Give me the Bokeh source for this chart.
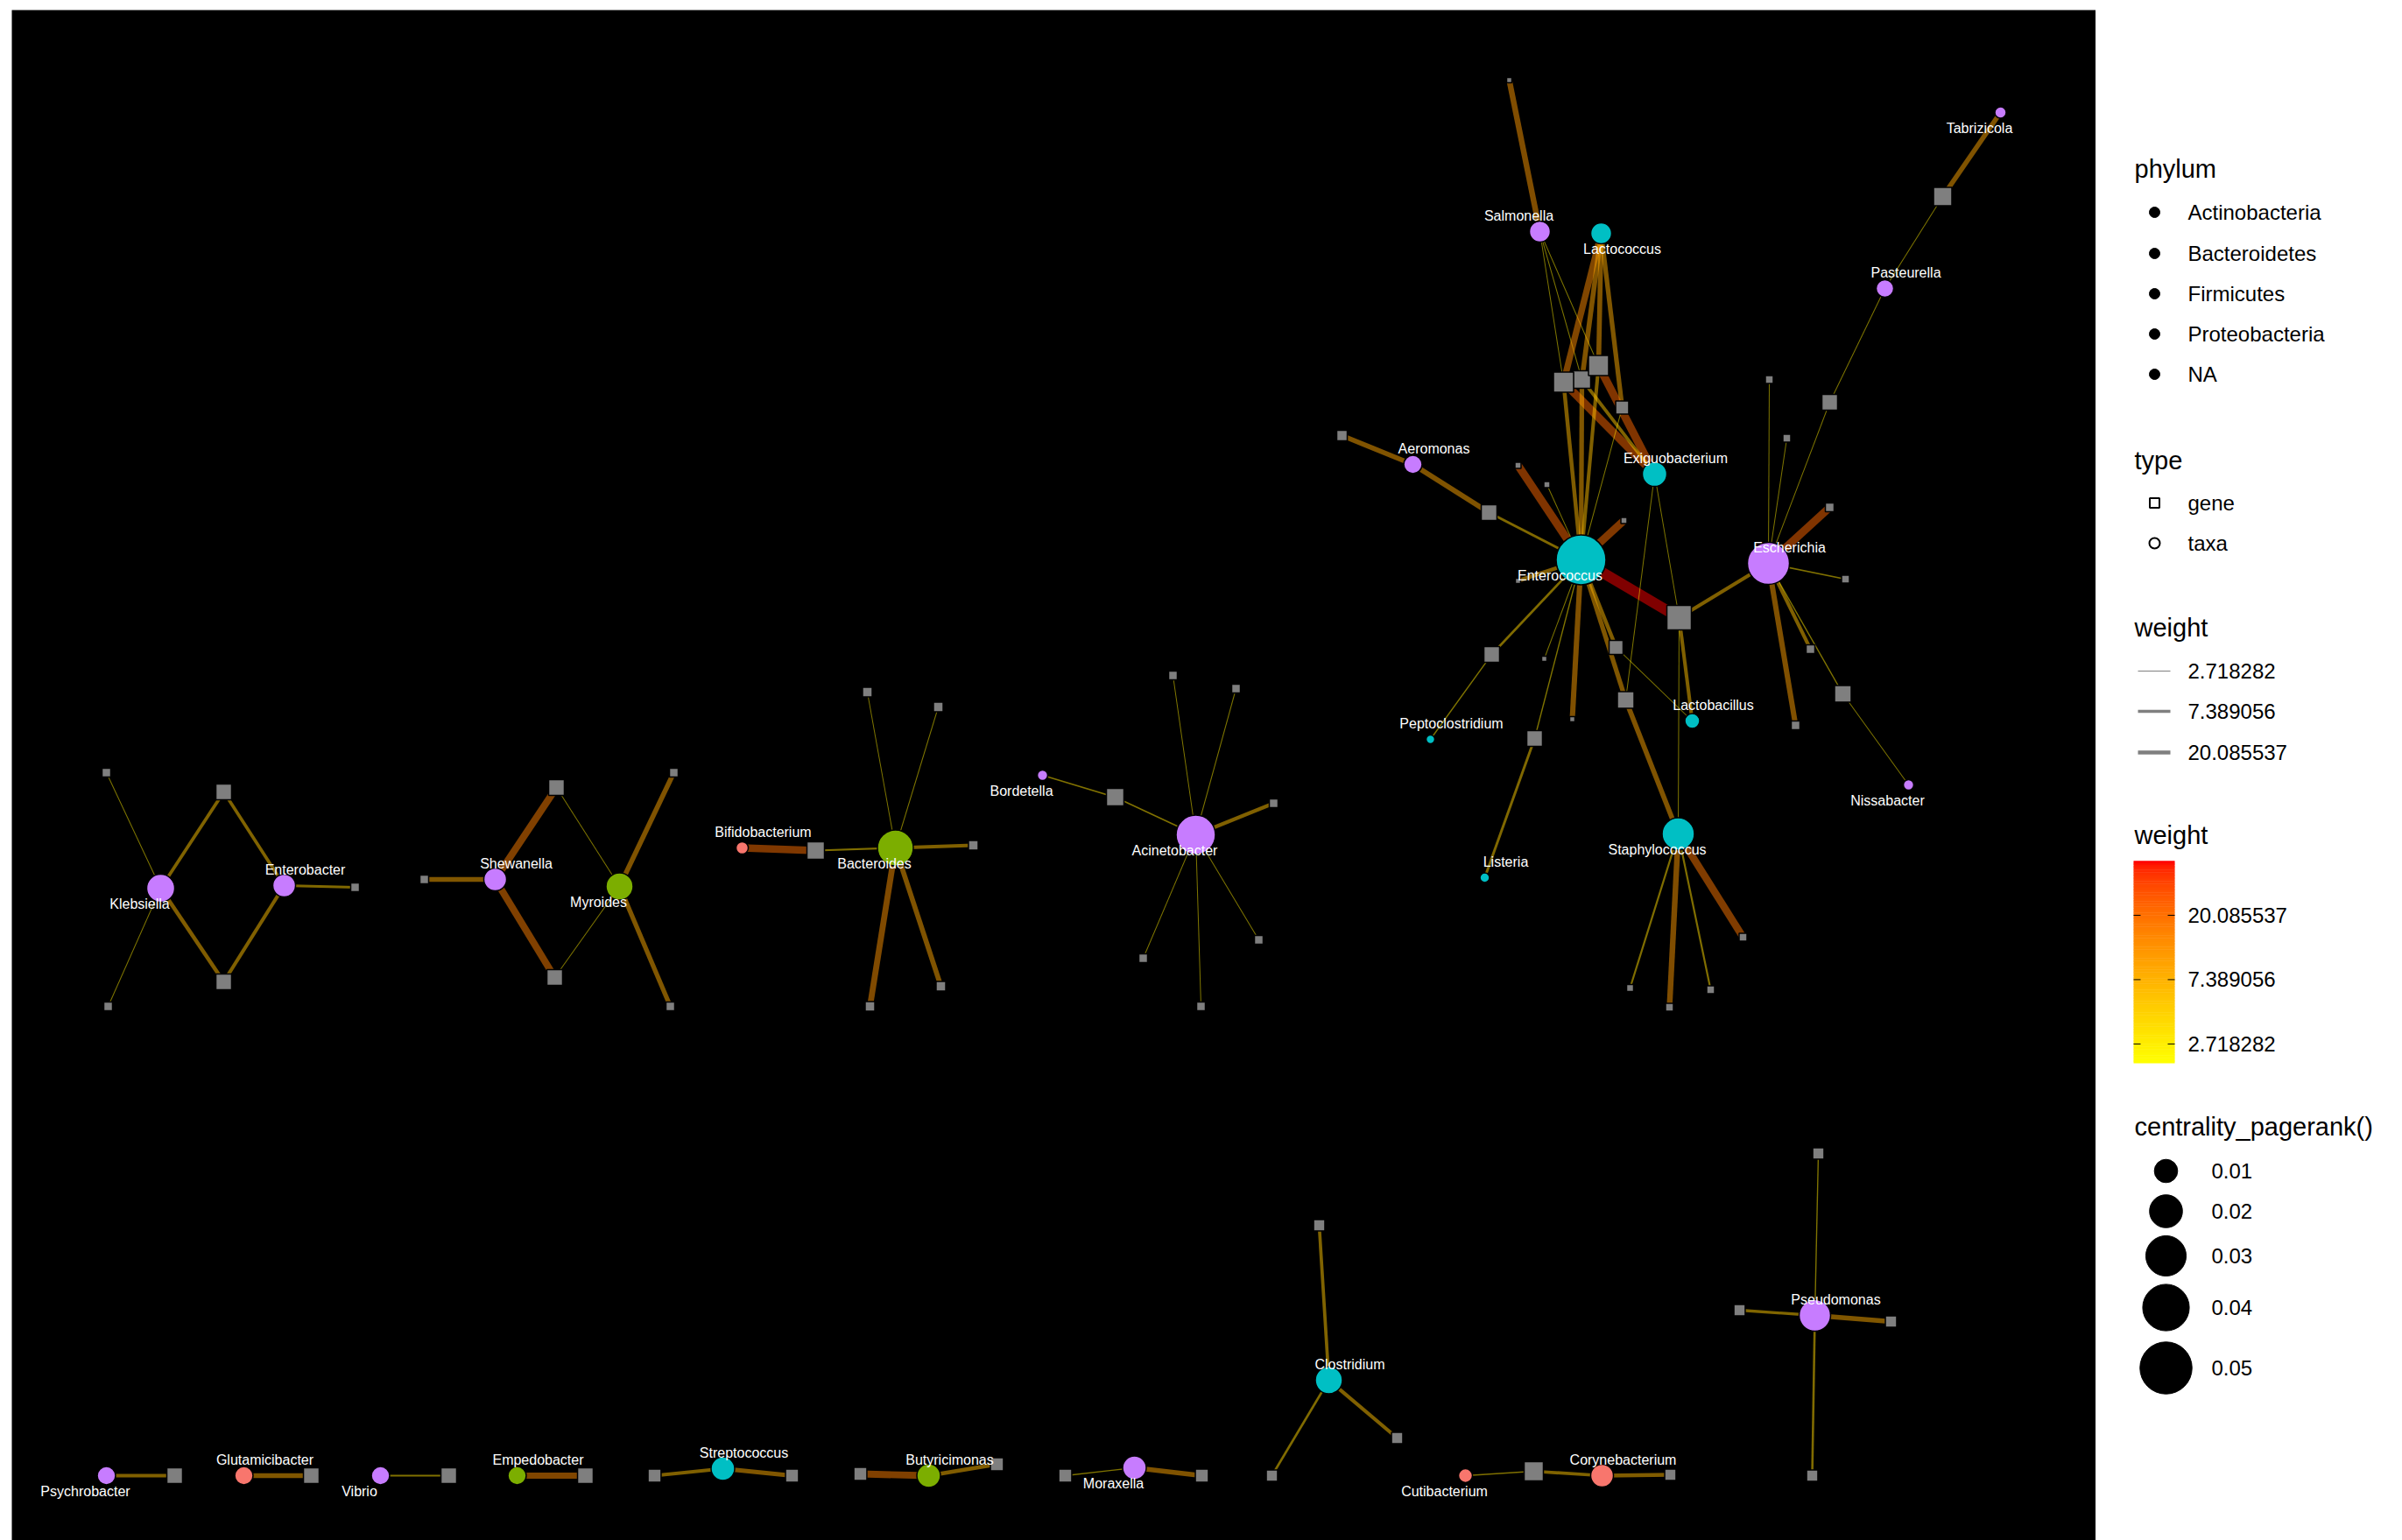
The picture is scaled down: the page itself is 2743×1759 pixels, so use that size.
import numpy as np
from bokeh.plotting import figure
from bokeh.models import ColumnDataSource, Range1d, LogColorMapper, CategoricalColorMapper
from bokeh.layouts import row
from bokeh.embed import file_html
from bokeh.resources import INLINE
from bokeh.core.properties import value
from bokeh.transform import transform

# ---------------- data ----------------
taxa_name = ["Enterococcus", "Escherichia", "Salmonella", "Lactococcus", "Aeromonas",
             "Exiguobacterium", "Pasteurella", "Tabrizicola", "Peptoclostridium", "Listeria",
             "Lactobacillus", "Staphylococcus", "Nissabacter", "Klebsiella", "Enterobacter",
             "Shewanella", "Myroides", "Bifidobacterium", "Bacteroides", "Bordetella",
             "Acinetobacter", "Psychrobacter", "Glutamicibacter", "Vibrio", "Empedobacter",
             "Streptococcus", "Butyricimonas", "Moraxella", "Clostridium", "Cutibacterium",
             "Corynebacterium", "Pseudomonas"]
taxa_phylum = ["Firmicutes", "Proteobacteria", "Proteobacteria", "Firmicutes", "Proteobacteria",
               "Firmicutes", "Proteobacteria", "Proteobacteria", "Firmicutes", "Firmicutes",
               "Firmicutes", "Firmicutes", "Proteobacteria", "Proteobacteria", "Proteobacteria",
               "Proteobacteria", "Bacteroidetes", "Actinobacteria", "Bacteroidetes", "Proteobacteria",
               "Proteobacteria", "Proteobacteria", "Actinobacteria", "Proteobacteria", "Bacteroidetes",
               "Firmicutes", "Bacteroidetes", "Proteobacteria", "Firmicutes", "Actinobacteria",
               "Actinobacteria", "Proteobacteria"]
taxa_x = [17.92, 20.06, 17.45, 18.15, 16.00, 18.76, 21.39, 22.71, 16.20, 16.82,
          19.19, 19.03, 21.66, 1.70, 3.11, 5.52, 6.94, 8.34, 10.09, 11.77,
          13.52, 1.08, 2.65, 4.21, 5.77, 8.12, 10.47, 12.82, 15.04, 16.60,
          18.16, 20.59]
taxa_y = [11.20, 11.16, 14.95, 14.93, 12.29, 12.18, 14.30, 16.31, 9.15, 7.57,
          9.36, 8.07, 8.63, 7.45, 7.48, 7.55, 7.47, 7.91, 7.91, 8.74,
          8.06, 0.74, 0.74, 0.74, 0.74, 0.82, 0.74, 0.83, 1.83, 0.74,
          0.74, 2.57]
taxa_pagerank = [0.0459, 0.0326, 0.0081, 0.0081, 0.0062, 0.0111, 0.0057, 0.0024, 0.0014, 0.0017,
                 0.0041, 0.0193, 0.0020, 0.0145, 0.0096, 0.0096, 0.0136, 0.0028, 0.0238, 0.0020,
                 0.0286, 0.0062, 0.0062, 0.0062, 0.0062, 0.0103, 0.0103, 0.0103, 0.0136, 0.0036,
                 0.0096, 0.0183]
taxa_label_side = ["sw", "ne", "nw", "se", "ne", "ne", "ne", "sw", "ne", "ne",
                   "ne", "sw", "sw", "sw", "ne", "ne", "sw", "ne", "sw", "sw",
                   "sw", "sw", "ne", "sw", "ne", "ne", "ne", "sw", "ne", "sw",
                   "ne", "ne"]

gene_name = ["g03", "g02", "g04", "g01", "g05", "g06", "g07", "g08", "g09", "g10",
             "g11", "g12", "g13", "g14", "g15", "g16", "g17", "g18", "g19", "g20",
             "g21", "g22", "g23", "g24", "g25", "g26", "g27", "g28", "g29", "g30",
             "g31", "g32", "g33", "g34", "g35", "g36", "g37", "g38", "g39", "g40",
             "g41", "g42", "g43", "g44", "g45", "g46", "g47", "g48", "g49", "g50",
             "g51", "g52", "g53", "g54", "g55", "g56", "g57", "g58", "g59", "g60",
             "g61", "g62", "g63", "g64", "g65", "g66", "g67", "g68", "g69", "g70",
             "g71", "g72", "g73"]
gene_x = [17.93, 17.72, 18.12, 17.10, 18.39, 15.19, 16.87, 17.20, 17.53, 18.41,
          17.20, 19.04, 22.05, 20.76, 20.07, 20.27, 20.76, 20.94, 16.90, 17.50,
          18.32, 18.43, 17.82, 17.39, 20.54, 20.91, 20.37, 18.48, 18.93, 19.40,
          19.77, 1.08, 2.42, 2.42, 1.10, 3.92, 4.71, 6.22, 6.20, 7.56,
          7.52, 9.18, 9.77, 10.58, 10.98, 9.80, 10.61, 12.60, 13.26, 13.98,
          14.41, 14.24, 13.58, 12.92, 1.86, 3.42, 4.99, 6.55, 7.34, 8.91,
          9.69, 11.25, 12.03, 13.59, 14.93, 15.82, 14.39, 17.38, 18.94, 20.63,
          19.73, 21.46, 20.56]
gene_y = [13.26, 13.23, 13.42, 16.68, 12.94, 12.62, 11.74, 12.28, 12.06, 11.65,
          10.96, 10.54, 15.35, 13.00, 13.26, 12.59, 11.80, 10.98, 10.12, 10.07,
          10.20, 9.60, 9.38, 9.16, 10.18, 9.67, 9.31, 6.31, 6.09, 6.29,
          6.89, 8.77, 8.55, 6.38, 6.10, 7.46, 7.55, 8.60, 6.43, 8.77,
          6.10, 7.88, 9.69, 9.52, 7.94, 6.10, 6.33, 8.49, 9.88, 9.73,
          8.42, 6.86, 6.10, 6.65, 0.74, 0.74, 0.74, 0.74, 0.74, 0.74,
          0.76, 0.87, 0.74, 0.74, 3.60, 1.17, 0.74, 0.79, 0.75, 4.42,
          2.63, 2.50, 0.74]
gene_pagerank = [0.0072, 0.0095, 0.0095, 0.00065, 0.0040, 0.0026, 0.0058, 0.00088, 0.00088, 0.00088,
                 0.00065, 0.0141, 0.0079, 0.0058, 0.00146, 0.00146, 0.0018, 0.00146, 0.0058, 0.00065,
                 0.0046, 0.0065, 0.00065, 0.0058, 0.0018, 0.0065, 0.0018, 0.00115, 0.00146, 0.00146,
                 0.00146, 0.0018, 0.0058, 0.0058, 0.0018, 0.0018, 0.0018, 0.0058, 0.0058, 0.0018,
                 0.0018, 0.0072, 0.0022, 0.0022, 0.0022, 0.0022, 0.0022, 0.0072, 0.0018, 0.0018,
                 0.0018, 0.0018, 0.0018, 0.0018, 0.0058, 0.0058, 0.0058, 0.0058, 0.0040, 0.0040,
                 0.0040, 0.0040, 0.0040, 0.0040, 0.0030, 0.0030, 0.0030, 0.0087, 0.0030, 0.0030,
                 0.0030, 0.0030, 0.0030]

edge_from = ["Salmonella", "Salmonella", "Salmonella", "Salmonella", "Lactococcus", "Lactococcus",
             "Lactococcus", "Lactococcus", "g02", "g04", "g03", "g02", "g03", "g04", "g05",
             "Aeromonas", "Aeromonas", "g07", "Enterococcus", "Enterococcus", "Enterococcus",
             "Enterococcus", "Enterococcus", "Enterococcus", "g19", "Enterococcus", "Enterococcus",
             "g24", "Enterococcus", "Enterococcus", "Enterococcus", "g22", "g21", "g12", "g12",
             "g12", "g22", "g12", "Escherichia", "Escherichia", "Escherichia", "g14", "Pasteurella",
             "g13", "Escherichia", "Escherichia", "Escherichia", "Escherichia", "Escherichia", "g26",
             "Staphylococcus", "Staphylococcus", "Staphylococcus", "Staphylococcus",
             "Klebsiella", "Klebsiella", "Klebsiella", "Klebsiella", "Enterobacter", "Enterobacter",
             "Enterobacter", "Shewanella", "Shewanella", "Shewanella", "Myroides", "Myroides",
             "Myroides", "Myroides", "Bifidobacterium", "g42", "Bacteroides", "Bacteroides",
             "Bacteroides", "Bacteroides", "Bacteroides", "Bordetella", "g48", "Acinetobacter",
             "Acinetobacter", "Acinetobacter", "Acinetobacter", "Acinetobacter", "Acinetobacter",
             "Psychrobacter", "Glutamicibacter", "Vibrio", "Empedobacter", "Streptococcus",
             "Streptococcus", "Butyricimonas", "Butyricimonas", "Moraxella", "Moraxella",
             "Clostridium", "Clostridium", "Clostridium", "Cutibacterium", "g68", "Corynebacterium",
             "Pseudomonas", "Pseudomonas", "Pseudomonas", "Pseudomonas"]
edge_to = ["g01", "g02", "g03", "g04", "g02", "g03",
           "g04", "g05", "Exiguobacterium", "Exiguobacterium", "Exiguobacterium", "Enterococcus",
           "Enterococcus", "Enterococcus", "Enterococcus",
           "g06", "g07", "Enterococcus", "g08", "g09", "g10",
           "g11", "g12", "g19", "Peptoclostridium", "g20", "g24",
           "Listeria", "g23", "g21", "g22", "Staphylococcus", "Lactobacillus", "Lactobacillus",
           "Staphylococcus", "Exiguobacterium", "Exiguobacterium", "Escherichia", "g15", "g16",
           "g14", "Pasteurella", "g13", "Tabrizicola", "g17", "g18", "g25", "g27", "g26",
           "Nissabacter", "g28", "g29", "g30", "g31",
           "g32", "g33", "g34", "g35", "g33", "g34",
           "g36", "g37", "g38", "g39", "g38", "g39",
           "g40", "g41", "g42", "Bacteroides", "g43", "g44",
           "g45", "g46", "g47", "g48", "Acinetobacter", "g49",
           "g50", "g51", "g52", "g53", "g54",
           "g55", "g56", "g57", "g58", "g59",
           "g60", "g61", "g62", "g63", "g64",
           "g65", "g66", "g67", "g68", "Corynebacterium", "g69",
           "g70", "g71", "g72", "g73"]
edge_weight = [11.0, 2.72, 2.72, 2.72, 13.5, 9.0,
               9.0, 8.2, 22.2, 22.2, 5.5, 6.7, 8.2, 6.0, 2.72,
               9.0, 9.0, 4.5, 22.2, 2.72, 20.1,
               6.7, 46.5, 4.1, 3.0, 2.72, 3.0,
               4.5, 10.0, 6.7, 8.2, 9.0, 2.72, 6.0,
               2.72, 2.72, 2.72, 6.0, 2.72, 2.72,
               2.72, 2.72, 2.72, 9.0, 22.2, 3.3, 6.0, 10.0, 3.0,
               2.72, 3.7, 11.0, 3.7, 18.2,
               2.72, 5.5, 6.7, 2.72, 5.5, 6.0,
               4.5, 8.2, 16.4, 16.4, 2.72, 2.72,
               9.0, 8.2, 20.1, 3.7, 2.72, 2.72,
               6.0, 12.2, 9.0, 3.3, 3.3, 2.72,
               2.72, 6.0, 2.72, 2.72, 2.72,
               6.0, 8.2, 3.3, 13.5, 6.0,
               8.2, 16.4, 6.7, 3.0, 9.0,
               5.5, 6.0, 4.1, 3.3, 5.5, 6.7,
               3.0, 5.0, 8.2, 4.1]

phylum_levels = ["Actinobacteria", "Bacteroidetes", "Firmicutes", "Proteobacteria", "NA"]
weight_breaks = [2.718282, 7.389056, 20.085537]
weight_break_labels = ["2.718282", "7.389056", "20.085537"]
pagerank_breaks = [0.01, 0.02, 0.03, 0.04, 0.05]
pagerank_break_labels = ["0.01", "0.02", "0.03", "0.04", "0.05"]

# ---------------- styling / scales ----------------
FONT = "Liberation Sans"
PHYLUM_COLORS = ["#F8766D", "#7CAE00", "#00BFC4", "#C77CFF"]
GENE_FILL = "#7F7F7F"
CIRCLE_K = 266.0          # diameter (px) = K * sqrt(pagerank)
SQUARE_K = 0.886 * CIRCLE_K
W_LOW, W_HIGH = np.exp(0.70), np.exp(3.84)
TOP_BORDER = 11

_M = np.array([[0.4124564, 0.3575761, 0.1804375],
               [0.2126729, 0.7151522, 0.0721750],
               [0.0193339, 0.1191920, 0.9503041]])
_WHITE = np.array([0.95047, 1.0, 1.08883])


def rgb2lab(rgb):
    c = np.array(rgb, dtype=float) / 255.0
    lin = np.where(c <= 0.04045, c / 12.92, ((c + 0.055) / 1.055) ** 2.4)
    xyz = _M @ lin / _WHITE
    f = np.where(xyz > 0.008856, np.cbrt(xyz), 7.787 * xyz + 16 / 116)
    return np.array([116 * f[1] - 16, 500 * (f[0] - f[1]), 200 * (f[1] - f[2])])


def lab2hex(lab):
    L, a, b = lab
    fy = (L + 16) / 116
    f = np.array([fy + a / 500, fy, fy - b / 200])
    xyz = np.where(f ** 3 > 0.008856, f ** 3, (f - 16 / 116) / 7.787) * _WHITE
    lin = np.linalg.solve(_M, xyz)
    lin = np.clip(lin, 0, 1)
    c = np.where(lin <= 0.0031308, 12.92 * lin, 1.055 * lin ** (1 / 2.4) - 0.055)
    c = np.clip(np.round(c * 255), 0, 255).astype(int)
    return "#%02x%02x%02x" % tuple(c)


lab_lo, lab_hi = rgb2lab([255, 255, 0]), rgb2lab([255, 0, 0])
palette = [lab2hex(lab_lo + (lab_hi - lab_lo) * t) for t in np.linspace(0, 1, 256)]
edge_cmap = LogColorMapper(palette=palette, low=W_LOW, high=W_HIGH)


def edge_width(w):
    return np.clip(1.0 + 3.87 * (np.log(np.asarray(w, dtype=float)) - 1.0), 0.8, None)


# ---------------- main network panel ----------------
pos = {}
for n, x, y in zip(taxa_name, taxa_x, taxa_y):
    pos[n] = (x, y)
for n, x, y in zip(gene_name, gene_x, gene_y):
    pos[n] = (x, y)

esrc = ColumnDataSource(dict(
    x0=[pos[a][0] for a in edge_from], y0=[pos[a][1] for a in edge_from],
    x1=[pos[b][0] for b in edge_to], y1=[pos[b][1] for b in edge_to],
    weight=edge_weight, width=list(edge_width(edge_weight)),
))

gsrc = ColumnDataSource(dict(
    x=gene_x, y=gene_y, name=gene_name,
    size=list(SQUARE_K * np.sqrt(np.array(gene_pagerank))),
))

OFF = {"ne": (24, -18), "nw": (-24, -18), "se": (24, 18), "sw": (-24, 18)}
tsrc = ColumnDataSource(dict(
    x=taxa_x, y=taxa_y, name=taxa_name, phylum=taxa_phylum,
    size=list(CIRCLE_K * np.sqrt(np.array(taxa_pagerank))),
    dx=[OFF[s][0] for s in taxa_label_side], dy=[OFF[s][1] for s in taxa_label_side],
))

p = figure(width=2393, height=1759, x_range=Range1d(0, 23.80), y_range=Range1d(0, 17.48),
           x_axis_type=None, y_axis_type=None, title=None, toolbar_location=None,
           output_backend="svg", min_border_left=13, min_border_right=0,
           min_border_top=TOP_BORDER, min_border_bottom=0)
p.background_fill_color = "black"
p.border_fill_color = "white"
p.outline_line_color = None
p.grid.visible = False

p.segment(x0="x0", y0="y0", x1="x1", y1="y1", source=esrc,
          line_color=transform("weight", edge_cmap), line_width="width", line_alpha=0.5)

p.scatter(x="x", y="y", size="size", marker="square", source=gsrc,
          fill_color=GENE_FILL, line_color="black", line_width=1.5)

phylum_cmap = CategoricalColorMapper(factors=phylum_levels[:4], palette=PHYLUM_COLORS,
                                     nan_color=GENE_FILL)
p.scatter(x="x", y="y", size="size", marker="circle", source=tsrc,
          fill_color=transform("phylum", phylum_cmap), line_color="black", line_width=1.5)

p.text(x="x", y="y", text="name", x_offset="dx", y_offset="dy", source=tsrc,
       text_color="white", text_font=value(FONT), text_font_size="16px",
       text_align="center", text_baseline="middle")

# ---------------- legend panel ----------------
# frame is aligned with the main panel's frame (top border 11px), so the range
# starts at that border to keep page-pixel positions
lf = figure(width=350, height=1759, x_range=Range1d(2393, 2743),
            y_range=Range1d(1759, TOP_BORDER),
            x_axis_type=None, y_axis_type=None, title=None, toolbar_location=None,
            output_backend="svg", min_border_left=0, min_border_right=0,
            min_border_top=TOP_BORDER, min_border_bottom=0)
lf.background_fill_color = "white"
lf.border_fill_color = "white"
lf.outline_line_color = None
lf.grid.visible = False

TITLE_X, KEY_X, LAB_X = 2437, 2460, 2498
titles = ["phylum", "type", "weight", "weight", "centrality_pagerank()"]
title_y = [192, 525, 716, 953, 1286]
lf.text(x=[TITLE_X] * 5, y=title_y, text=titles, text_color="black",
        text_font=value(FONT), text_font_size="29px", text_align="left",
        text_baseline="middle")

# phylum
ph_y = [242, 289, 335, 381, 427]
lf.scatter(x=[KEY_X] * 5, y=ph_y, size=12, marker="circle", fill_color="black", line_color="black")
lf.text(x=[LAB_X] * 5, y=ph_y, text=phylum_levels, text_color="black",
        text_font=value(FONT), text_font_size="24px", text_baseline="middle")

# type
lf.scatter(x=[KEY_X], y=[574], size=11, marker="square", fill_color=None,
           line_color="black", line_width=2)
lf.scatter(x=[KEY_X], y=[620], size=12, marker="circle", fill_color=None,
           line_color="black", line_width=2)
lf.text(x=[LAB_X] * 2, y=[574, 620], text=["gene", "taxa"], text_color="black",
        text_font=value(FONT), text_font_size="24px", text_baseline="middle")

# weight (width)
ww_y = [766, 812, 859]
lf.segment(x0=[2441] * 3, y0=ww_y, x1=[2478] * 3, y1=ww_y, line_color="#7F7F7F",
           line_width=[1.0, 3.3, 4.5])
lf.text(x=[LAB_X] * 3, y=ww_y, text=weight_break_labels, text_color="black",
        text_font=value(FONT), text_font_size="24px", text_baseline="middle")

# weight (colour bar)
BAR_L, BAR_R, BAR_BOTTOM, PX_PER_LN = 2436, 2483, 1214, 73.5
steps = np.linspace(np.log(W_LOW), np.log(W_HIGH), 161)
cb = ColumnDataSource(dict(
    top=list(BAR_BOTTOM - (steps[1:] - np.log(W_LOW)) * PX_PER_LN - 0.5),
    bottom=list(BAR_BOTTOM - (steps[:-1] - np.log(W_LOW)) * PX_PER_LN),
    w=list(np.exp((steps[1:] + steps[:-1]) / 2)),
))
lf.quad(left=BAR_L, right=BAR_R, top="top", bottom="bottom", source=cb,
        fill_color=transform("w", edge_cmap), line_color=None)
tick_y = [BAR_BOTTOM - (np.log(b) - np.log(W_LOW)) * PX_PER_LN for b in weight_breaks]
lf.segment(x0=[BAR_L] * 3, y0=tick_y, x1=[BAR_L + 8] * 3, y1=tick_y, line_color="black", line_width=1)
lf.segment(x0=[BAR_R - 8] * 3, y0=tick_y, x1=[BAR_R] * 3, y1=tick_y, line_color="black", line_width=1)
lf.text(x=[LAB_X] * 3, y=tick_y, text=weight_break_labels, text_color="black",
        text_font=value(FONT), text_font_size="24px", text_baseline="middle")

# pagerank sizes
pr_y = [1337, 1383, 1434, 1493, 1562]
lf.scatter(x=[2473] * 5, y=pr_y, size=list(CIRCLE_K * np.sqrt(np.array(pagerank_breaks))),
           marker="circle", fill_color="black", line_color="black")
lf.text(x=[2525] * 5, y=pr_y, text=pagerank_break_labels, text_color="black",
        text_font=value(FONT), text_font_size="24px", text_baseline="middle")

layout = row(p, lf, spacing=0)
open("out.html", "w").write(file_html(layout, INLINE))
